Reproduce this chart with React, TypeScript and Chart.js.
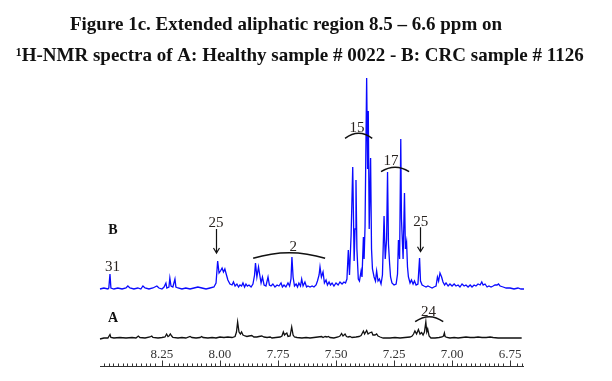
import React, { useEffect, useRef } from "react";
import { Chart, registerables } from "chart.js";

Chart.register(...registerables);

const TITLE_LINES = [
  "Figure 1c. Extended aliphatic region 8.5 – 6.6 ppm on",
  "¹H-NMR spectra of A: Healthy sample # 0022 - B: CRC sample # 1126",
];

// Spectrum B (CRC sample) — chemical shift (ppm) and intensity (a.u.)
const PPM_B = [
  8.517, 8.5, 8.483, 8.479, 8.474, 8.47, 8.457, 8.44, 8.422, 8.405, 8.397, 8.388, 8.371, 8.354, 8.341, 8.332,
  8.323, 8.306, 8.289, 8.272, 8.263, 8.25, 8.241, 8.233, 8.229, 8.22, 8.216, 8.211, 8.203, 8.194, 8.19, 8.181,
  8.164, 8.147, 8.129, 8.112, 8.095, 8.078, 8.06, 8.043, 8.026, 8.017, 8.01, 8.004, 7.998, 7.991, 7.985, 7.979,
  7.972, 7.966, 7.957, 7.948, 7.942, 7.935, 7.927, 7.92, 7.914, 7.907, 7.901, 7.894, 7.888, 7.882, 7.875, 7.866,
  7.858, 7.851, 7.847, 7.841, 7.834, 7.83, 7.823, 7.817, 7.81, 7.802, 7.793, 7.787, 7.78, 7.772, 7.763, 7.754,
  7.746, 7.737, 7.731, 7.724, 7.716, 7.707, 7.7, 7.694, 7.69, 7.685, 7.679, 7.672, 7.666, 7.66, 7.653, 7.648,
  7.642, 7.634, 7.627, 7.621, 7.612, 7.603, 7.595, 7.586, 7.58, 7.573, 7.569, 7.563, 7.556, 7.55, 7.543, 7.537,
  7.53, 7.524, 7.517, 7.509, 7.5, 7.491, 7.483, 7.474, 7.466, 7.459, 7.453, 7.447, 7.442, 7.435, 7.428, 7.422,
  7.418, 7.414, 7.41, 7.404, 7.399, 7.392, 7.388, 7.382, 7.379, 7.375, 7.368, 7.364, 7.361, 7.357, 7.351, 7.347,
  7.343, 7.336, 7.33, 7.325, 7.319, 7.313, 7.306, 7.3, 7.293, 7.288, 7.282, 7.278, 7.274, 7.269, 7.265, 7.259,
  7.25, 7.241, 7.235, 7.231, 7.226, 7.221, 7.218, 7.211, 7.205, 7.201, 7.196, 7.192, 7.188, 7.181, 7.175, 7.168,
  7.162, 7.155, 7.147, 7.14, 7.136, 7.129, 7.121, 7.112, 7.104, 7.095, 7.086, 7.078, 7.069, 7.063, 7.058, 7.052,
  7.045, 7.039, 7.032, 7.026, 7.017, 7.009, 7.0, 6.991, 6.983, 6.974, 6.966, 6.957, 6.948, 6.94, 6.931, 6.922,
  6.914, 6.905, 6.897, 6.888, 6.879, 6.872, 6.866, 6.858, 6.849, 6.841, 6.832, 6.823, 6.815, 6.806, 6.8, 6.793,
  6.78, 6.767, 6.75, 6.733, 6.716, 6.703, 6.69,
];
const INT_B = [
  0, 1, 0, 1, 15, 1, 0, 1, 0, 1, 3, 1, 0, 1, 0, 3,
  1, 0, 1, 3, 1, 0, 2, 6, 1, 2, 11, 3, 2, 10, 2, 1,
  0, 1, 0, 1, 2, 1, 0, 1, 2, 6, 28, 16, 18, 21, 17, 20,
  14, 9, 5, 4, 7, 3, 5, 2, 4, 3, 6, 2, 5, 3, 4, 2,
  5, 14, 26, 12, 22, 16, 6, 12, 4, 3, 12, 4, 3, 5, 2, 4,
  3, 6, 2, 4, 2, 6, 3, 10, 32, 12, 3, 5, 2, 6, 3, 10,
  3, 7, 2, 3, 2, 3, 2, 4, 8, 14, 22, 12, 17, 6, 9, 4,
  7, 4, 6, 3, 6, 4, 7, 5, 7, 6, 10, 39, 14, 54, 122, 28,
  60, 109, 40, 10, 8, 18, 12, 52, 30, 62, 211, 120, 178, 60, 131, 40,
  20, 12, 8, 18, 8, 10, 5, 14, 73, 30, 50, 117, 45, 25, 12, 6,
  4, 5, 15, 49, 30, 150, 70, 30, 96, 40, 47, 22, 12, 6, 9, 5,
  8, 4, 5, 31, 8, 4, 3, 2, 3, 2, 1, 2, 3, 12, 8, 16,
  12, 7, 4, 6, 3, 5, 3, 5, 3, 4, 2, 5, 3, 4, 2, 4,
  2, 4, 3, 5, 4, 7, 4, 5, 2, 3, 2, 3, 4, 4, 5, 3,
  2, 1, 1, 0, 1, 0, 0,
];

// Spectrum A (healthy sample)
const PPM_A = [
  8.517, 8.5, 8.483, 8.474, 8.47, 8.457, 8.431, 8.405, 8.379, 8.362, 8.352, 8.345, 8.323, 8.302, 8.294, 8.289,
  8.267, 8.25, 8.237, 8.23, 8.224, 8.22, 8.214, 8.208, 8.203, 8.181, 8.164, 8.147, 8.129, 8.121, 8.103, 8.086,
  8.079, 8.073, 8.052, 8.034, 8.017, 8.0, 7.983, 7.966, 7.948, 7.935, 7.929, 7.924, 7.918, 7.912, 7.907, 7.901,
  7.892, 7.884, 7.875, 7.863, 7.854, 7.841, 7.832, 7.82, 7.81, 7.797, 7.784, 7.776, 7.759, 7.741, 7.733, 7.727,
  7.722, 7.718, 7.712, 7.707, 7.698, 7.691, 7.685, 7.679, 7.668, 7.647, 7.629, 7.612, 7.595, 7.578, 7.562, 7.556,
  7.547, 7.539, 7.533, 7.526, 7.509, 7.491, 7.483, 7.476, 7.47, 7.461, 7.455, 7.448, 7.44, 7.431, 7.414, 7.401,
  7.392, 7.382, 7.377, 7.368, 7.362, 7.356, 7.346, 7.341, 7.332, 7.325, 7.319, 7.31, 7.297, 7.267, 7.246, 7.224,
  7.203, 7.181, 7.172, 7.166, 7.16, 7.153, 7.145, 7.138, 7.131, 7.125, 7.119, 7.113, 7.109, 7.105, 7.099, 7.091,
  7.073, 7.056, 7.043, 7.037, 7.033, 7.03, 7.022, 7.009, 6.991, 6.974, 6.957, 6.94, 6.922, 6.905, 6.888, 6.871,
  6.853, 6.836, 6.823, 6.802, 6.772, 6.741, 6.7,
];
const INT_A = [
  -1, 0, 0, 3.5, 0.5, 0, 0.5, 0, 0.5, 0, 2, 0.5, 0, 1, 2, 0.5,
  0, 0.5, 1, 4, 1.5, 2, 4, 2, 0.5, 0, 0.5, 0, 1.5, 0.5, 0, 0.5,
  1.5, 0.5, 0, 0.5, 0, 1, 0.5, 1, 0.5, 1.5, 6, 16, 6, 4, 6, 3,
  2, 1.5, 2, 2.5, 1, 1, 1.5, 2, 1, 0.5, 1, 0, 0.5, 1, 2, 6,
  3, 4, 5, 1.5, 2, 11, 3, 1, 0.5, 0, 0.5, 0, 0.5, 1, 1.5, 0.5,
  1.5, 1, 1.5, 0.5, 0, 1, 2, 4.5, 2, 4, 1.5, 1, 1.5, 0.5, 1, 1.5,
  2.5, 7, 4, 7.5, 4, 5, 6, 3, 3, 4, 2, 1, 0, 0, 0.5, 0,
  0.5, 1, 2, 4, 7, 4, 8.5, 4, 5.5, 3, 6, 16, 6, 9, 2, 0,
  0, 0.5, 1, 2, 5, 1.5, 0.5, 0, 0.5, 0, 0.5, 1, 0.5, 0.5, 1, 0.5,
  0.5, 1, 0.5, 0, 0, 0, 0,
];

const TICK_VALUES = [8.25, 8.0, 7.75, 7.5, 7.25, 7.0, 6.75];
const TICK_LABELS = ["8.25", "8.00", "7.75", "7.50", "7.25", "7.00", "6.75"];

// Annotations (ppm, intensity on the spectrum's own scale)
const LABELS_B = [
  { text: "31", ppm: 8.463, v: 21.7 },
  { text: "25", ppm: 8.017, v: 66 },
  { text: "2", ppm: 7.684, v: 42.3 },
  { text: "15", ppm: 7.41, v: 161.3 },
  { text: "17", ppm: 7.263, v: 128 },
  { text: "25", ppm: 7.135, v: 67.3 },
];
const ARROWS_B = [
  { ppm: 8.017, from: 60, to: 36 },
  { ppm: 7.137, from: 61.7, to: 37.3 },
];
const BRACES_B = [
  { from: 7.857, to: 7.547, end: 30.7, top: 36.3 },
  { from: 7.461, to: 7.344, end: 150.7, top: 155.7 },
  { from: 7.306, to: 7.185, end: 117.3, top: 121.7 },
];
const LABELS_A = [{ text: "24", ppm: 7.102, v: 26.3 }];
const BRACES_A = [{ from: 7.159, to: 7.038, end: 16.3, top: 21.3 }];
const SERIES_TAGS = [
  { text: "B", ppm: 8.461, v: 59, axis: "yB" },
  { text: "A", ppm: 8.461, v: 20, axis: "yA" },
];

const SERIF = '"Liberation Serif", "Times New Roman", serif';

const decorPlugin = {
  id: "nmrDecor",
  afterDatasetsDraw(chart: any) {
    const ctx = chart.ctx as CanvasRenderingContext2D;
    const xs = chart.scales.x;
    const yB = chart.scales.yB;
    const yA = chart.scales.yA;
    const area = chart.chartArea;
    ctx.save();

    // Title
    ctx.fillStyle = "#111";
    ctx.textBaseline = "alphabetic";
    ctx.textAlign = "left";
    ctx.font = `bold 20px ${SERIF}`;
    const w2 = ctx.measureText(TITLE_LINES[1]).width;
    const size = (20 * 568) / w2;
    ctx.font = `bold ${size.toFixed(2)}px ${SERIF}`;
    const w1 = ctx.measureText(TITLE_LINES[0]).width;
    ctx.fillText(TITLE_LINES[0], 286 - w1 / 2, 30);
    ctx.fillText(TITLE_LINES[1], 16, 61);

    // Axis
    const axisY = Math.round(area.bottom) + 0.5;
    ctx.strokeStyle = "#333";
    ctx.lineWidth = 1;
    ctx.beginPath();
    ctx.moveTo(area.left, axisY);
    ctx.lineTo(area.right, axisY);
    ctx.stroke();
    ctx.beginPath();
    for (let k = 335; k <= 425; k++) {
      const v = k * 0.02;
      if (v < xs.min || v > xs.max) continue;
      const isMajor = TICK_VALUES.some((t) => Math.abs(t - v) < 0.011);
      if (isMajor) continue;
      const px = Math.round(xs.getPixelForValue(v)) + 0.5;
      ctx.moveTo(px, axisY);
      ctx.lineTo(px, axisY - 3);
    }
    TICK_VALUES.forEach((t) => {
      const px = Math.round(xs.getPixelForValue(t)) + 0.5;
      ctx.moveTo(px, axisY);
      ctx.lineTo(px, axisY - 6);
    });
    ctx.stroke();
    ctx.fillStyle = "#333";
    ctx.font = `13px ${SERIF}`;
    ctx.textAlign = "center";
    TICK_VALUES.forEach((t, i) => {
      ctx.fillText(TICK_LABELS[i], xs.getPixelForValue(t), axisY - 9);
    });

    // Number labels
    ctx.fillStyle = "#2a2420";
    ctx.font = `15px ${SERIF}`;
    ctx.textBaseline = "middle";
    LABELS_B.forEach((l) => ctx.fillText(l.text, xs.getPixelForValue(l.ppm), yB.getPixelForValue(l.v)));
    LABELS_A.forEach((l) => ctx.fillText(l.text, xs.getPixelForValue(l.ppm), yA.getPixelForValue(l.v)));

    // Series tags
    ctx.fillStyle = "#111";
    ctx.font = `bold 14px ${SERIF}`;
    SERIES_TAGS.forEach((s) => {
      const sc = chart.scales[s.axis];
      ctx.fillText(s.text, xs.getPixelForValue(s.ppm), sc.getPixelForValue(s.v));
    });

    // Arrows
    ctx.strokeStyle = "#111";
    ctx.lineWidth = 1.2;
    ARROWS_B.forEach((a) => {
      const px = Math.round(xs.getPixelForValue(a.ppm)) + 0.5;
      const y1 = yB.getPixelForValue(a.from);
      const y2 = yB.getPixelForValue(a.to);
      ctx.beginPath();
      ctx.moveTo(px, y1);
      ctx.lineTo(px, y2);
      ctx.moveTo(px - 3, y2 - 5);
      ctx.lineTo(px, y2);
      ctx.lineTo(px + 3, y2 - 5);
      ctx.stroke();
    });

    // Braces (arcs)
    const drawBrace = (b: any, sc: any) => {
      const x1 = xs.getPixelForValue(b.from);
      const x2 = xs.getPixelForValue(b.to);
      const ye = sc.getPixelForValue(b.end);
      const yt = sc.getPixelForValue(b.top);
      const cy = 2 * yt - ye;
      ctx.beginPath();
      ctx.moveTo(x1, ye);
      ctx.quadraticCurveTo((x1 + x2) / 2, cy, x2, ye);
      ctx.stroke();
    };
    ctx.lineWidth = 1.5;
    BRACES_B.forEach((b) => drawBrace(b, yB));
    BRACES_A.forEach((b) => drawBrace(b, yA));

    ctx.restore();
  },
};

export default function App() {
  const canvasRef = useRef<HTMLCanvasElement | null>(null);

  useEffect(() => {
    const canvas = canvasRef.current;
    if (!canvas) return;
    const chart = new Chart(canvas, {
      type: "line",
      data: {
        datasets: [
          {
            label: "A",
            data: PPM_A.map((p, i) => ({ x: p, y: INT_A[i] })),
            borderColor: "#111111",
            borderWidth: 1.3,
            pointRadius: 0,
            tension: 0,
            yAxisID: "yA",
            clip: false as any,
          },
          {
            label: "B",
            data: PPM_B.map((p, i) => ({ x: p, y: INT_B[i] })),
            borderColor: "#0a0aff",
            borderWidth: 1.3,
            pointRadius: 0,
            tension: 0,
            yAxisID: "yB",
            clip: false as any,
          },
        ],
      },
      options: {
        responsive: false,
        animation: false,
        devicePixelRatio: 1,
        layout: { padding: { left: 100, right: 88, top: 78, bottom: 15 } },
        plugins: { legend: { display: false }, tooltip: { enabled: false }, title: { display: false } },
        scales: {
          x: { type: "linear", reverse: true, min: 6.69, max: 8.517, display: false },
          yB: { type: "linear", min: -77, max: 211, display: false },
          yA: { type: "linear", min: -28, max: 260, display: false },
        },
      },
      plugins: [decorPlugin],
    });
    return () => chart.destroy();
  }, []);

  return (
    <div style={{ position: "fixed", left: 0, top: 0, width: 612, height: 381, background: "#fff" }}>
      <canvas ref={canvasRef} width={612} height={381} style={{ display: "block" }} />
    </div>
  );
}
